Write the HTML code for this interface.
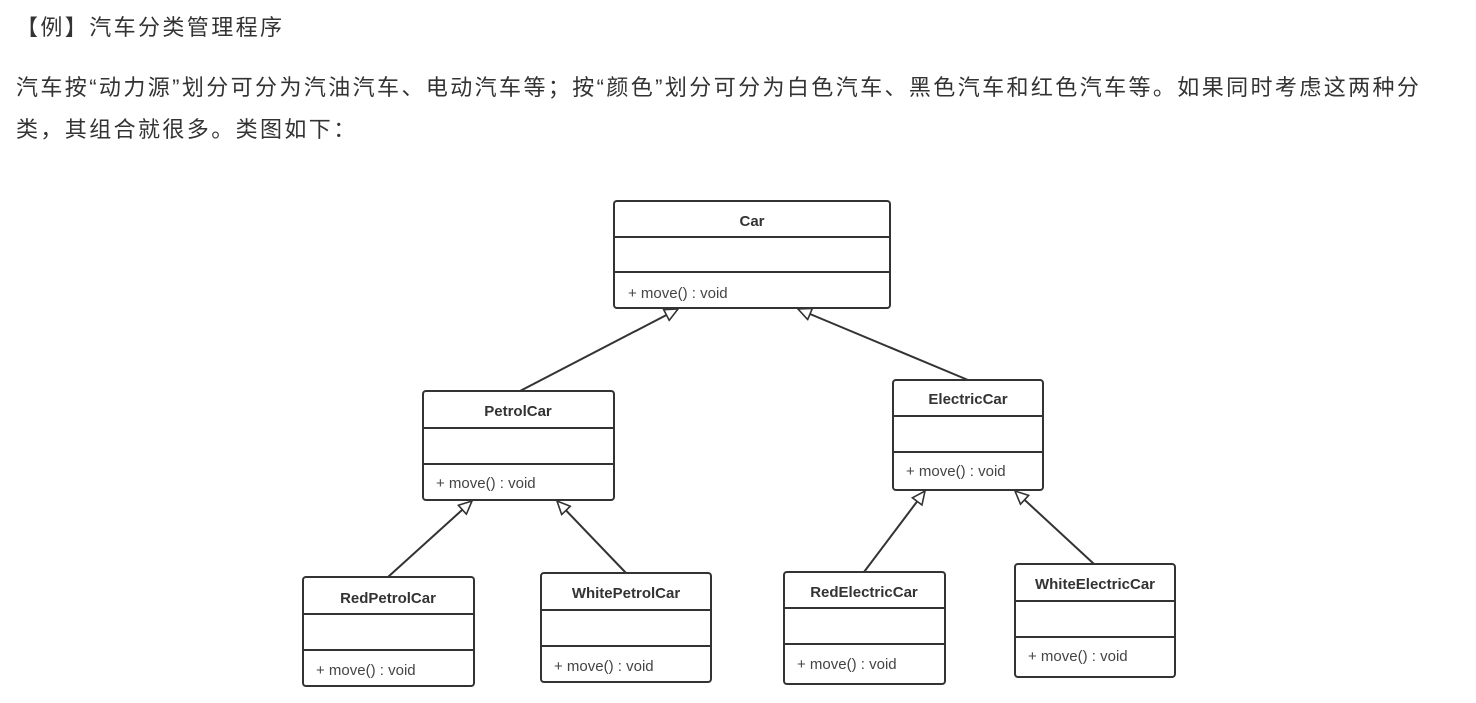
<!DOCTYPE html>
<html><head><meta charset="utf-8"><style>
body{margin:0;background:#fff;width:1476px;height:703px;overflow:hidden}
.t{position:absolute;left:16px;font-family:"Liberation Sans","Noto Sans CJK SC",sans-serif;font-size:22px;letter-spacing:2.4px;color:#333;white-space:nowrap}
</style></head><body>
<div class="t" style="top:10px;left:16px">【例】汽车分类管理程序</div>
<div class="t" style="top:70px">汽车按“动力源”划分可分为汽油汽车、电动汽车等；按“颜色”划分可分为白色汽车、黑色汽车和红色汽车等。如果同时考虑这两种分</div>
<div class="t" style="top:112px">类，其组合就很多。类图如下：</div>
<svg width="1476" height="703" style="position:absolute;left:0;top:0" font-family="Liberation Sans, sans-serif">
<defs><marker id="a" markerWidth="16" markerHeight="14" refX="14" refY="7" orient="auto" markerUnits="userSpaceOnUse"><path d="M1,1 L14,7 L1,13 Z" fill="#fff" stroke="#333" stroke-width="1.6"/></marker></defs>
<g stroke="#333" stroke-width="2" fill="#fff">
<line x1="520" y1="391" x2="678" y2="309" marker-end="url(#a)"/>
<line x1="968" y1="380" x2="798" y2="309" marker-end="url(#a)"/>
<line x1="388" y1="577" x2="472" y2="501" marker-end="url(#a)"/>
<line x1="626" y1="573" x2="557" y2="501" marker-end="url(#a)"/>
<line x1="864" y1="572" x2="925" y2="491" marker-end="url(#a)"/>
<line x1="1094" y1="564" x2="1015" y2="491" marker-end="url(#a)"/>
<rect x="614" y="201" width="276" height="107" rx="3"/><line x1="614" y1="237" x2="890" y2="237"/><line x1="614" y1="272" x2="890" y2="272"/>
<rect x="423" y="391" width="191" height="109" rx="3"/><line x1="423" y1="428" x2="614" y2="428"/><line x1="423" y1="464" x2="614" y2="464"/>
<rect x="893" y="380" width="150" height="110" rx="3"/><line x1="893" y1="416" x2="1043" y2="416"/><line x1="893" y1="452" x2="1043" y2="452"/>
<rect x="303" y="577" width="171" height="109" rx="3"/><line x1="303" y1="614" x2="474" y2="614"/><line x1="303" y1="650" x2="474" y2="650"/>
<rect x="541" y="573" width="170" height="109" rx="3"/><line x1="541" y1="610" x2="711" y2="610"/><line x1="541" y1="646" x2="711" y2="646"/>
<rect x="784" y="572" width="161" height="112" rx="3"/><line x1="784" y1="608" x2="945" y2="608"/><line x1="784" y1="644" x2="945" y2="644"/>
<rect x="1015" y="564" width="160" height="113" rx="3"/><line x1="1015" y1="601" x2="1175" y2="601"/><line x1="1015" y1="637" x2="1175" y2="637"/>
</g>
<g font-size="15" fill="#333" font-weight="bold" text-anchor="middle">
<text x="752" y="226">Car</text>
<text x="518" y="416">PetrolCar</text>
<text x="968" y="404">ElectricCar</text>
<text x="388" y="603">RedPetrolCar</text>
<text x="626" y="598">WhitePetrolCar</text>
<text x="864" y="597">RedElectricCar</text>
<text x="1095" y="589">WhiteElectricCar</text>
</g>
<g font-size="15" fill="#444">
<text x="628" y="298">+ move() : void</text>
<text x="436" y="488">+ move() : void</text>
<text x="906" y="476">+ move() : void</text>
<text x="316" y="675">+ move() : void</text>
<text x="554" y="671">+ move() : void</text>
<text x="797" y="669">+ move() : void</text>
<text x="1028" y="661">+ move() : void</text>
</g>
</svg>
</body></html>
